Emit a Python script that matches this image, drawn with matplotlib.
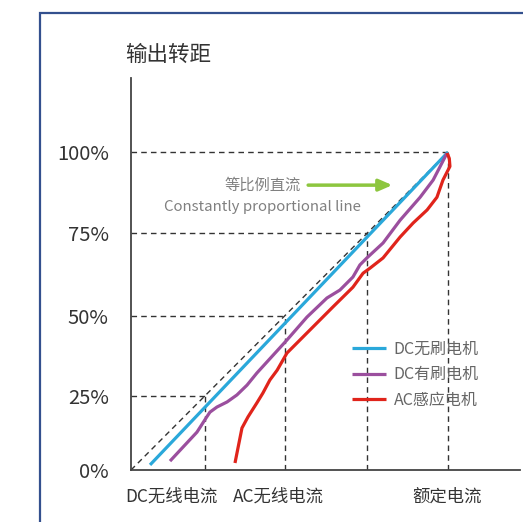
import matplotlib.pyplot as plt
from matplotlib.patches import Rectangle

plt.rcParams['font.family'] = ['Noto Sans CJK SC', 'DejaVu Sans']

# grid positions (as drawn in the picture) and their labels
grid = [23.3, 48.5, 74.5, 100]
y_ticks = [0, 23.3, 48.5, 74.5, 100]
y_labels = ["0%", "25%", "50%", "75%", "100%"]
x_names = ["DC无线电流", "AC无线电流", "额定电流"]
x_name_pos = [12.9, 46.4, 99.7]

# DC brushless: nearly straight
bl_x = [6.0, 100]
bl_y = [1.6, 100]

# DC brushed
br_x = [12.3, 16.4, 20.8, 23.7, 24.9, 27.1, 30.3, 33.4, 36.6, 39.7, 49.2, 55.5,
        61.8, 65.9, 70.0, 72.2, 74.4, 79.5, 84.9, 91.2, 95.3, 99.7]
br_y = [2.8, 7.2, 11.9, 16.4, 18.2, 19.8, 21.4, 23.6, 26.7, 30.5, 40.9, 48.1,
        54.1, 56.6, 60.7, 64.5, 66.7, 71.4, 78.6, 85.8, 91.2, 99.7]

# AC induction
ac_x = [32.8, 35.0, 36.9, 39.7, 41.6, 43.8, 46.1, 49.2, 55.5, 63.7, 70.0, 73.2,
        75.4, 79.5, 84.9, 89.0, 93.4, 96.5, 98.4, 100.6, 100.4, 99.7]
ac_y = [2.2, 13.2, 16.7, 21.1, 24.2, 28.3, 31.4, 36.8, 43.1, 51.3, 57.5, 61.9,
        63.5, 66.7, 73.3, 77.7, 81.8, 85.8, 91.2, 95.5, 98.0, 99.7]

fig = plt.figure(figsize=(5.23, 5.22), dpi=100)

# blue frame around the picture (cut off at right and bottom)
fig.patches.append(Rectangle((39.5 / 523, -0.1), 1.2, 1.1 - 12.5 / 522,
                             transform=fig.transFigure, fill=False,
                             edgecolor='#33508e', linewidth=1.6))

ax = fig.add_axes([131 / 523, 52 / 522, 389 / 523, 392 / 522])
ax.set_xlim(0, 122.7)
ax.set_ylim(0, 123.3)

dash = dict(color='#333333', linewidth=1.0, linestyle=(0, (4, 3)))
ax.plot([0, 100], [0, 100], **dash)
for g in grid:
    ax.plot([0, g], [g, g], **dash)
    ax.plot([g, g], [0, g], **dash)

ax.plot(bl_x, bl_y, color='#2aa8da', linewidth=2.3, label='DC无刷电机', solid_capstyle='butt')
ax.plot(br_x, br_y, color='#9b4f9e', linewidth=2.3, label='DC有刷电机', solid_capstyle='butt')
ax.plot(ac_x, ac_y, color='#e0241b', linewidth=2.3, label='AC感应电机', solid_capstyle='butt')

ax.spines['top'].set_visible(False)
ax.spines['right'].set_visible(False)
for s in ['left', 'bottom']:
    ax.spines[s].set_color('#444444')
    ax.spines[s].set_linewidth(1.3)

ax.set_xticks([])
ax.set_yticks(y_ticks)
ax.set_yticklabels(y_labels, fontsize=14.5, color='#333333')
ax.tick_params(axis='y', length=0, pad=16)

for name, xp in zip(x_names, x_name_pos):
    ax.text(xp, -8.5, name, ha='center', va='center', fontsize=12.5,
            color='#333333', clip_on=False)

ax.text(-1.9, 130.5, "输出转距", ha='left', va='center', fontsize=15.5,
        color='#333333', clip_on=False)

ax.text(41.6, 89.6, "等比例直流", ha='center', va='center', fontsize=11, color='#808080')
ax.text(41.6, 82.7, "Constantly proportional line", ha='center', va='center',
        fontsize=10.8, color='#808080')
ax.annotate("", xy=(83.3, 89.6), xytext=(55.0, 89.6),
            arrowprops=dict(arrowstyle='-|>,head_length=0.8,head_width=0.35',
                            color='#8dc63f', linewidth=2.5))

ax.legend(loc='upper left', bbox_to_anchor=(352 / 523, 1 - 341 / 522),
          bbox_transform=fig.transFigure, frameon=False, fontsize=11.5,
          handlelength=2.1, handletextpad=0.5, labelspacing=0.52,
          borderpad=0, borderaxespad=0, labelcolor='#666666')

fig.savefig('out.png', dpi=100)
